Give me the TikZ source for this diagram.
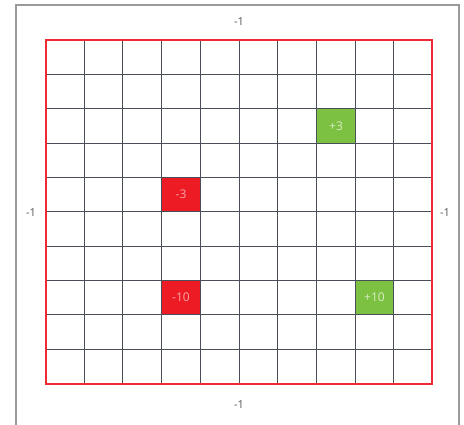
\documentclass[tikz,border=0pt]{standalone}
\usepackage{fontspec}
\setmainfont{Open Sans}
\definecolor{framegray}{HTML}{9A9A9A}
\definecolor{gridgray}{HTML}{4A4E58}
\definecolor{borderred}{HTML}{EE2A33}
\definecolor{cellred}{HTML}{ED1C24}
\definecolor{cellgreen}{HTML}{7DC142}
\definecolor{labelgray}{HTML}{555555}
\tikzset{
  framestyle/.style={draw=framegray, line width=1.6pt},
  gridline/.style={draw=gridgray, line width=1.3pt},
  borderline/.style={draw=borderred, line width=2pt},
  cellbox/.style={minimum width=39pt, minimum height=34.5pt, inner sep=0pt, anchor=center, font=\fontsize{12}{14}\selectfont},
  redcell/.style={cellbox, fill=cellred, text=white!60!cellred},
  greencell/.style={cellbox, fill=cellgreen, text=white!70!cellgreen},
  edgelabel/.style={text=labelgray, font=\fontsize{11}{13}\selectfont, inner sep=0pt}
}
\begin{document}
\begin{tikzpicture}[x=1pt,y=-1pt]
\useasboundingbox (0,0) rectangle (464,425);
% outer frame (open at bottom)
\draw[framestyle] (16,426) -- (16,5) -- (459,5) -- (459,426);
% coloured cells
\node[redcell]   (m3)  at (181,194.5) {-3};
\node[greencell] (p3)  at (336,126) {+3};
\node[redcell]   (m10) at (181,297.5) {-10};
\node[greencell] (p10) at (374.5,297.5) {+10};
% grid lines
\foreach \x in {84.5,122.5,161.5,200.5,239.5,277.5,316.5,355.5,393.5}
  \draw[gridline] (\x,40) -- (\x,384);
\foreach \y in {74.5,108.5,143.5,177.5,211.5,246.5,280.5,314.5,349.5}
  \draw[gridline] (46,\y) -- (432,\y);
% red border
\draw[borderline] (46,40) -- (432,40) -- (432,384) -- (46,384) -- cycle;
% edge labels
\node[edgelabel] (top)    at (239,22)  {-1};
\node[edgelabel] (bottom) at (239,405) {-1};
\node[edgelabel] (left)   at (31,213)  {-1};
\node[edgelabel] (right)  at (445,213) {-1};
\end{tikzpicture}
\end{document}
